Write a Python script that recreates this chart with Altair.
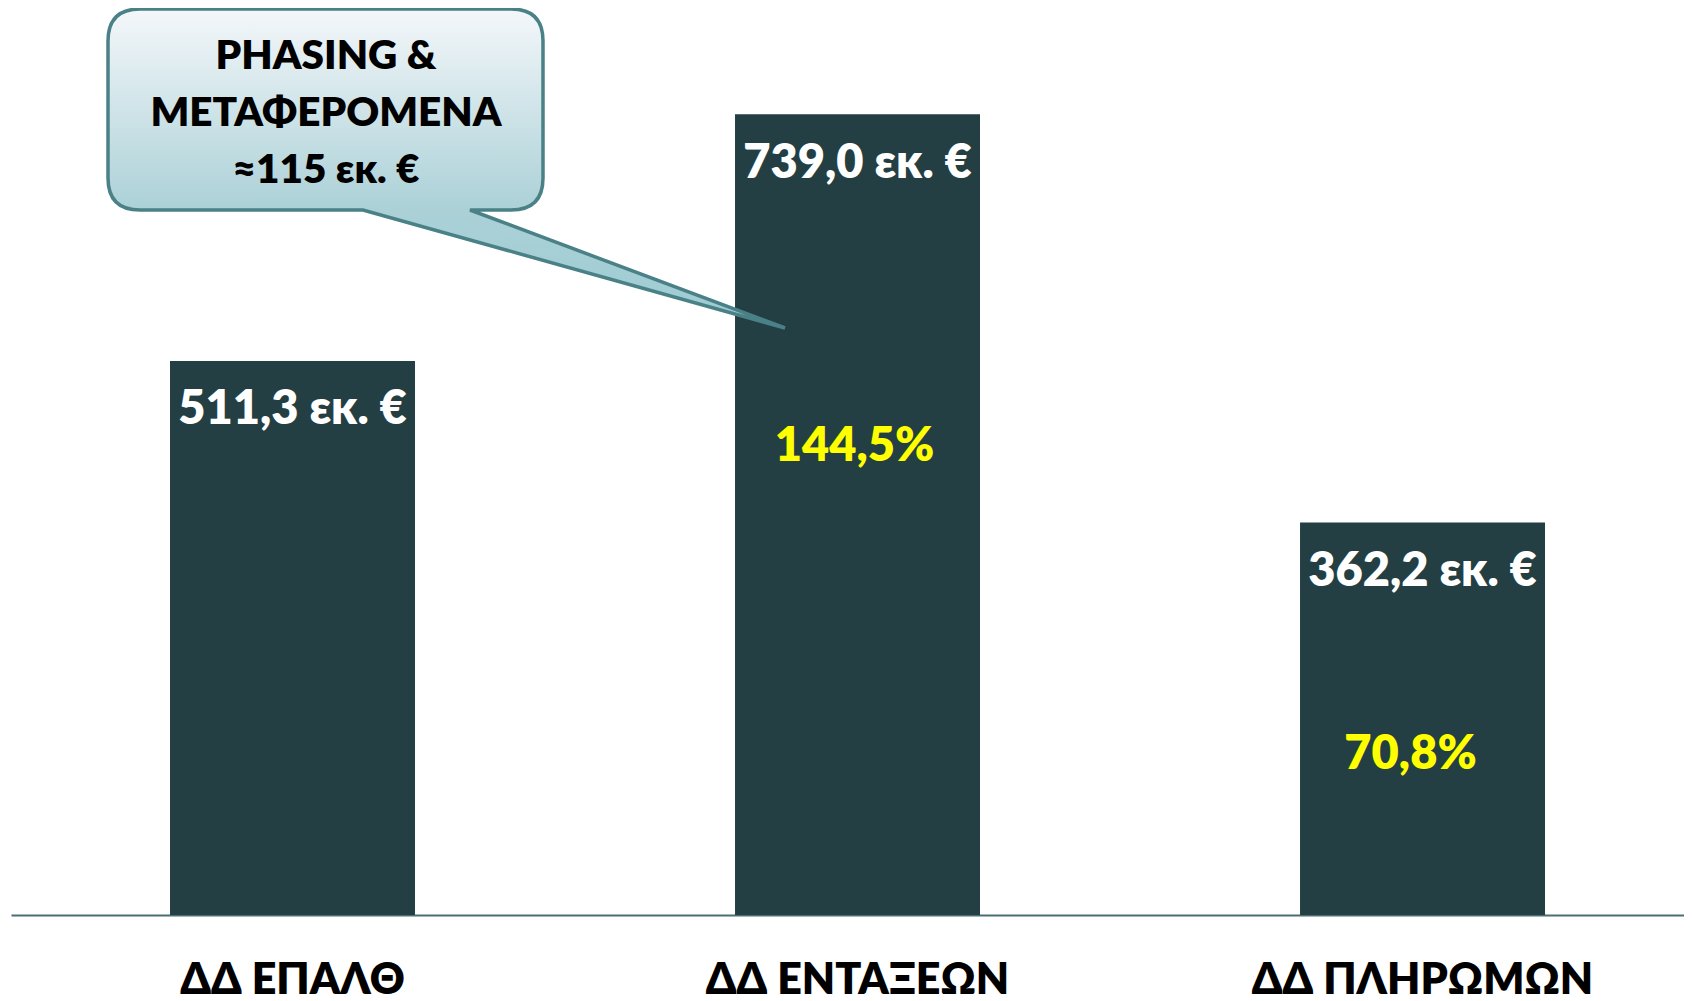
import altair as alt
import pandas as pd

categories = ["ΔΔ ΕΠΑΛΘ", "ΔΔ ΕΝΤΑΞΕΩΝ", "ΔΔ ΠΛΗΡΩΜΩΝ"]
values = [511.3, 739.0, 362.2]
value_labels = ["511,3 εκ. €", "739,0 εκ. €", "362,2 εκ. €"]
pct_labels = ["", "144,5%", "70,8%"]
callout_lines = ["PHASING &", "ΜΕΤΑΦΕΡΟΜΕΝΑ", "≈115 εκ. €"]

df = pd.DataFrame({"cat": categories, "value": values,
                   "vlabel": value_labels, "plabel": pct_labels})

FONT = "Lato"
W = 800
BAR = "#233f43"

x_enc = alt.X("cat:N", sort=categories,
              scale=alt.Scale(paddingInner=0.5664, paddingOuter=0.2637, align=0.5336),
              axis=alt.Axis(title=None, labelAngle=0, ticks=False, grid=False,
                            domainColor="#4a6f73", domainWidth=2,
                            labelFont=FONT, labelFontSize=43, labelFontWeight=W,
                            labelColor="black", labelPadding=65, labelLimit=0,
                            labelBaseline="middle"))
y_enc = alt.Y("value:Q", scale=alt.Scale(domain=[0, 837], nice=False, zero=True), axis=None)

base = alt.Chart(df)

bars = base.mark_bar(color=BAR).encode(x=x_enc, y=y_enc)

vals = base.mark_text(font=FONT, fontSize=47, fontWeight=W, color="white",
                      baseline="middle", dy=49.5).encode(x=x_enc, y=y_enc, text="vlabel:N")

pct2 = base.transform_filter(alt.datum.cat == categories[1]).mark_text(
    font=FONT, fontSize=47, fontWeight=W, color="#ffff00",
    baseline="middle", dy=333, dx=-3).encode(x=x_enc, y=y_enc, text="plabel:N")
pct3 = base.transform_filter(alt.datum.cat == categories[2]).mark_text(
    font=FONT, fontSize=47, fontWeight=W, color="#ffff00",
    baseline="middle", dy=232, dx=-12).encode(x=x_enc, y=y_enc, text="plabel:N")

# speech bubble (annotation) as one custom symbol path, pixel units / 500
S = 500.0
def P(x, y):
    return f"{x / S:.4f},{y / S:.4f}"
L, R, T, B, r = -217, 218, -101, 100, 32
path = (f"M{P(L + r, T)}L{P(R - r, T)}Q{P(R, T)} {P(R, T + r)}"
        f"L{P(R, B - r)}Q{P(R, B)} {P(R - r, B)}"
        f"L{P(145, B)}L{P(460, 218)}L{P(38, B)}"
        f"L{P(L + r, B)}Q{P(L, B)} {P(L, B - r)}"
        f"L{P(L, T + r)}Q{P(L, T)} {P(L + r, T)}Z")

grad = alt.Gradient(gradient="linear", x1=0, x2=0, y1=0, y2=1,
                    stops=[alt.GradientStop(offset=0, color="#f4f7fa"),
                           alt.GradientStop(offset=0.63, color="#abd1d7"),
                           alt.GradientStop(offset=1, color="#9ccbd2")])

one = alt.Chart(pd.DataFrame({"k": [0]}))
bubble = one.mark_point(shape=path, size=(2 * S) ** 2, filled=True, fill=grad,
                        fillOpacity=1, stroke="#4a8187", strokeWidth=3.5,
                        opacity=1).encode(x=alt.value(314), y=alt.value(102))
bubble_text = one.mark_text(font=FONT, fontSize=40.5, fontWeight=W, color="black",
                            baseline="middle", lineHeight=57).encode(
    x=alt.value(315), y=alt.value(49), text=alt.value(callout_lines))

chart = alt.layer(bars, vals, pct2, pct3, bubble, bubble_text).properties(
    width=1673, height=907,
    padding={"left": 3, "top": 0, "right": 0, "bottom": 86},
    autosize=alt.AutoSizeParams(type="none"),
    background="white",
).configure_view(stroke="transparent", strokeWidth=0)

chart.save("out.html", embed_options={"renderer": "svg", "actions": False})
